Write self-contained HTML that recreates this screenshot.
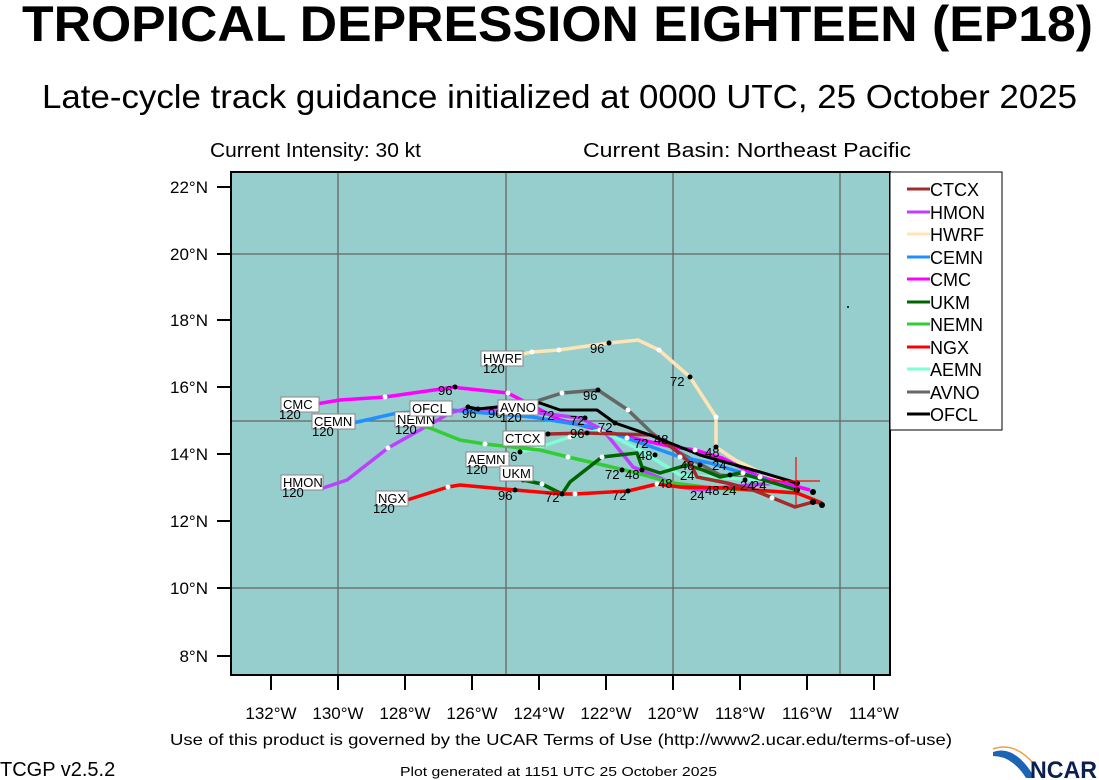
<!DOCTYPE html>
<html><head><meta charset="utf-8"><style>
html,body{margin:0;padding:0;background:#fff;}
svg{display:block;font-family:"Liberation Sans",Arial,sans-serif;}
.lb{fill:#fff;stroke:#888;stroke-width:1;}
.t{font-size:13px;fill:#000;}
</style></head><body>
<svg width="1099" height="780" viewBox="0 0 1099 780" xmlns="http://www.w3.org/2000/svg">
<text x="22" y="41" font-size="50" font-weight="bold" textLength="1071" lengthAdjust="spacingAndGlyphs">TROPICAL DEPRESSION EIGHTEEN (EP18)</text>
<text x="42" y="108" font-size="33" textLength="1035" lengthAdjust="spacingAndGlyphs">Late-cycle track guidance initialized at 0000 UTC, 25 October 2025</text>
<text x="210" y="157" font-size="20" textLength="211" lengthAdjust="spacingAndGlyphs">Current Intensity: 30 kt</text>
<text x="583" y="157" font-size="20" textLength="328" lengthAdjust="spacingAndGlyphs">Current Basin: Northeast Pacific</text>

<rect x="231" y="172" width="659" height="503" fill="#96CDCD"/>
<g stroke="#666" stroke-width="1.3">
<line x1="338" y1="172" x2="338" y2="675"/><line x1="506" y1="172" x2="506" y2="675"/>
<line x1="673" y1="172" x2="673" y2="675"/><line x1="840" y1="172" x2="840" y2="675"/>
<line x1="231" y1="254" x2="890" y2="254"/><line x1="231" y1="421" x2="890" y2="421"/><line x1="231" y1="588" x2="890" y2="588"/>
</g>
<rect x="231" y="172" width="659" height="503" fill="none" stroke="#000" stroke-width="2"/>
<g stroke="#000" stroke-width="2">
<line x1="217" y1="187" x2="231" y2="187"/><line x1="217" y1="254" x2="231" y2="254"/><line x1="217" y1="320" x2="231" y2="320"/><line x1="217" y1="387" x2="231" y2="387"/><line x1="217" y1="454" x2="231" y2="454"/><line x1="217" y1="521" x2="231" y2="521"/><line x1="217" y1="588" x2="231" y2="588"/><line x1="217" y1="656" x2="231" y2="656"/>
<line x1="271" y1="675" x2="271" y2="690"/><line x1="338" y1="675" x2="338" y2="690"/><line x1="405" y1="675" x2="405" y2="690"/><line x1="472" y1="675" x2="472" y2="690"/><line x1="539" y1="675" x2="539" y2="690"/><line x1="606" y1="675" x2="606" y2="690"/><line x1="673" y1="675" x2="673" y2="690"/><line x1="740" y1="675" x2="740" y2="690"/><line x1="807" y1="675" x2="807" y2="690"/><line x1="874" y1="675" x2="874" y2="690"/>
</g>
<g font-size="17" text-anchor="end">
<text x="208" y="193">22°N</text><text x="208" y="260">20°N</text><text x="208" y="326">18°N</text><text x="208" y="393">16°N</text><text x="208" y="460">14°N</text><text x="208" y="527">12°N</text><text x="208" y="594">10°N</text><text x="208" y="662">8°N</text>
</g>
<g font-size="17" text-anchor="middle">
<text x="271" y="719">132°W</text><text x="338" y="719">130°W</text><text x="405" y="719">128°W</text><text x="472" y="719">126°W</text><text x="539" y="719">124°W</text><text x="606" y="719">122°W</text><text x="673" y="719">120°W</text><text x="740" y="719">118°W</text><text x="807" y="719">116°W</text><text x="874" y="719">114°W</text>
</g>

<g fill="none" stroke-width="3.5" stroke-linejoin="round">
<polyline stroke="#FFE4B5" points="797,485 760,472 735,460 716,447 716,417 690,377 659,350 638,340 609,343 559,350 532,352 497,360"/>
<polyline stroke="#666666" points="797,485 720,475 675,450 652,433 628,410 598,390 562,393 540,400 520,408"/>
<polyline stroke="#FF00FF" points="810,490 760,477 722,458 695,450 673,447 620,435 560,420 508,393 460,388 455,387 385,397 340,400 310,405"/>
<polyline stroke="#1E90FF" points="797,490 743,473 710,463 680,457 627,438 593,427 532,417 450,410 397,413 353,423 345,424"/>
<polyline stroke="#BF3EFF" points="797,490 777,483 727,487 700,490 680,487 653,475 633,467 625,457 603,430 580,418 540,413 468,408 450,413 388,448 347,480 323,488"/>
<polyline stroke="#7FFFD4" points="797,490 760,480 680,475 640,450 600,430 570,437 537,448 520,452"/>
<polyline stroke="#32CD32" points="797,493 713,488 673,483 633,472 603,465 568,457 540,450 485,444 460,440 430,428 417,425"/>
<polyline stroke="#006400" points="797,490 740,473 720,477 703,470 687,465 660,473 642,467 637,453 602,457 570,482 562,494 542,484 523,480 505,476"/>
<polyline stroke="#FF0000" points="822,503 797,493 727,488 680,487 657,484 628,491 575,494 562,494 515,490 460,485 448,487 407,500"/>
<polyline stroke="#A52A2A" points="822,503 813,502 795,507 753,490 727,483 697,477 690,463 673,448 653,435 587,433 548,434 540,436"/>
<polyline stroke="#000000" stroke-width="3" points="797,483 760,472 700,455 650,435 615,423 597,410 560,410 540,403 497,407 478,409 468,407"/>
</g>
<g fill="#fff">
<circle cx="559" cy="350" r="2.5"/><circle cx="532" cy="352" r="2.5"/><circle cx="659" cy="350" r="2.5"/><circle cx="716" cy="417" r="2.5"/>
<circle cx="628" cy="410" r="2.5"/><circle cx="562" cy="393" r="2.5"/><circle cx="508" cy="393" r="2.5"/><circle cx="385" cy="397" r="2.5"/>
<circle cx="388" cy="448" r="2.5"/><circle cx="485" cy="444" r="2.5"/><circle cx="568" cy="457" r="2.5"/><circle cx="602" cy="457" r="2.5"/>
<circle cx="542" cy="484" r="2.5"/><circle cx="575" cy="494" r="2.5"/><circle cx="448" cy="487" r="2.5"/><circle cx="657" cy="484" r="2.5"/>
<circle cx="695" cy="450" r="2.5"/><circle cx="680" cy="457" r="2.5"/><circle cx="760" cy="477" r="2.5"/><circle cx="743" cy="473" r="2.5"/>
<circle cx="570" cy="437" r="2.5"/><circle cx="600" cy="430" r="2.5"/><circle cx="627" cy="438" r="2.5"/><circle cx="772" cy="498" r="2.5"/>
</g>
<g fill="#000">
<circle cx="609" cy="343" r="2.5"/><circle cx="690" cy="377" r="2.5"/><circle cx="716" cy="447" r="2.5"/><circle cx="598" cy="390" r="2.5"/>
<circle cx="455" cy="387" r="2.5"/><circle cx="468" cy="407" r="2.5"/><circle cx="478" cy="409" r="2.5"/><circle cx="548" cy="434" r="2.5"/>
<circle cx="587" cy="433" r="2.5"/><circle cx="520" cy="452" r="2.5"/><circle cx="523" cy="480" r="2.5"/><circle cx="515" cy="490" r="2.5"/>
<circle cx="562" cy="494" r="2.5"/><circle cx="628" cy="491" r="2.5"/><circle cx="622" cy="470" r="2.5"/><circle cx="642" cy="470" r="2.5"/>
<circle cx="797" cy="483" r="3"/><circle cx="797" cy="490" r="3"/><circle cx="813" cy="492" r="3"/><circle cx="813" cy="502" r="3"/><circle cx="822" cy="505" r="3"/>
<circle cx="585" cy="418" r="2.5"/><circle cx="615" cy="423" r="2.5"/><circle cx="655" cy="455" r="2.5"/><circle cx="700" cy="465" r="2.5"/>
<circle cx="730" cy="475" r="2.5"/><circle cx="745" cy="480" r="2.5"/><circle cx="848" cy="307" r="1"/>
</g>
<g stroke="#FF0000" stroke-width="1.2"><line x1="796" y1="457" x2="796" y2="506"/><line x1="770" y1="481" x2="820" y2="481"/></g>

<g class="t">
<text x="590" y="353">96</text><text x="670" y="386">72</text><text x="583" y="400">96</text><text x="438" y="395">96</text>
<text x="462" y="418">96</text><text x="488" y="418">96</text><text x="540" y="420">72</text><text x="570" y="425">72</text><text x="570" y="438">96</text>
<text x="598" y="432">72</text><text x="634" y="448">72</text><text x="638" y="460">48</text>
<text x="503" y="461">96</text><text x="605" y="479">72</text><text x="625" y="479">48</text><text x="498" y="500">96</text><text x="545" y="502">72</text>
<text x="612" y="500">72</text><text x="658" y="488">48</text><text x="690" y="500">24</text><text x="705" y="495">48</text><text x="722" y="495">24</text>
<text x="705" y="457">48</text><text x="712" y="470">24</text><text x="680" y="470">48</text><text x="740" y="490">24</text><text x="752" y="490">24</text>
<text x="654" y="444">48</text><text x="680" y="480">24</text>
</g>

<g font-size="13">
<rect class="lb" x="481" y="351" width="42" height="15"/><text x="483" y="363">HWRF</text><text x="483" y="373">120</text>
<rect class="lb" x="281" y="397" width="38" height="15"/><text x="283" y="409">CMC</text><text x="279" y="419">120</text>
<rect class="lb" x="312" y="414" width="43" height="15"/><text x="314" y="426">CEMN</text><text x="312" y="436">120</text>
<rect class="lb" x="395" y="412" width="38" height="15"/><text x="397" y="424">NEMN</text><text x="395" y="434">120</text>
<rect class="lb" x="410" y="401" width="42" height="15"/><text x="412" y="413">OFCL</text>
<rect class="lb" x="498" y="400" width="40" height="15"/><text x="500" y="412">AVNO</text><text x="500" y="422">120</text>
<rect class="lb" x="503" y="431" width="42" height="15"/><text x="505" y="443">CTCX</text>
<rect class="lb" x="466" y="452" width="43" height="15"/><text x="468" y="464">AEMN</text><text x="466" y="474">120</text>
<rect class="lb" x="500" y="466" width="33" height="15"/><text x="502" y="478">UKM</text>
<rect class="lb" x="281" y="475" width="42" height="15"/><text x="283" y="487">HMON</text><text x="282" y="497">120</text>
<rect class="lb" x="376" y="491" width="32" height="15"/><text x="378" y="503">NGX</text><text x="373" y="513">120</text>
</g>

<rect x="890" y="172" width="112" height="258" fill="#fff" stroke="#000" stroke-width="1"/>
<g stroke-width="3">
<line x1="907" y1="189" x2="930" y2="189" stroke="#A52A2A"/>
<line x1="907" y1="212" x2="930" y2="212" stroke="#BF3EFF"/>
<line x1="907" y1="234" x2="930" y2="234" stroke="#FFE4B5"/>
<line x1="907" y1="257" x2="930" y2="257" stroke="#1E90FF"/>
<line x1="907" y1="279" x2="930" y2="279" stroke="#FF00FF"/>
<line x1="907" y1="302" x2="930" y2="302" stroke="#006400"/>
<line x1="907" y1="324" x2="930" y2="324" stroke="#32CD32"/>
<line x1="907" y1="347" x2="930" y2="347" stroke="#FF0000"/>
<line x1="907" y1="369" x2="930" y2="369" stroke="#7FFFD4"/>
<line x1="907" y1="392" x2="930" y2="392" stroke="#666666"/>
<line x1="907" y1="414" x2="930" y2="414" stroke="#000000"/>
</g>
<g font-size="18">
<text x="930" y="196">CTCX</text><text x="930" y="219">HMON</text><text x="930" y="241">HWRF</text><text x="930" y="264">CEMN</text>
<text x="930" y="286">CMC</text><text x="930" y="309">UKM</text><text x="930" y="331">NEMN</text><text x="930" y="354">NGX</text>
<text x="930" y="376">AEMN</text><text x="930" y="399">AVNO</text><text x="930" y="421">OFCL</text>
</g>

<text x="170" y="745" font-size="16" textLength="782" lengthAdjust="spacingAndGlyphs">Use of this product is governed by the UCAR Terms of Use (http://www2.ucar.edu/terms-of-use)</text>
<text x="0" y="776" font-size="20">TCGP v2.5.2</text>
<text x="400" y="776" font-size="13" textLength="317" lengthAdjust="spacingAndGlyphs">Plot generated at 1151 UTC   25 October 2025</text>
<path d="M993,752 Q1015,744 1035,778 L1026,778 Q1012,756 993,756 Z" fill="#1E64B4"/>
<path d="M993,749 Q1018,740 1040,772" fill="none" stroke="#F0A040" stroke-width="1.5"/>
<text x="1030" y="778" font-size="24" font-weight="bold" fill="#0A2050" textLength="67" lengthAdjust="spacingAndGlyphs">NCAR</text>
</svg>
</body></html>
